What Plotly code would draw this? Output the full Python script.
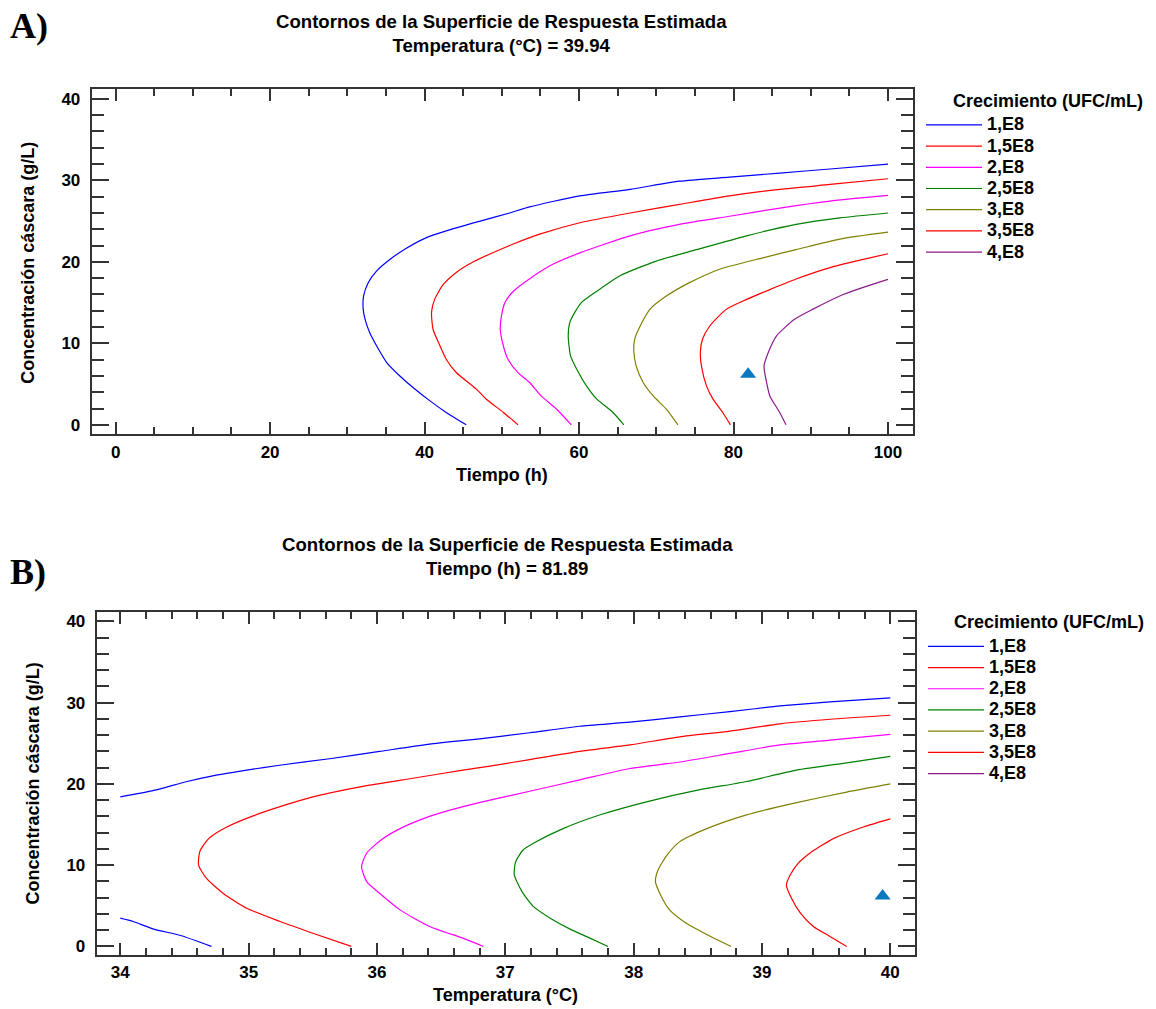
import plotly.graph_objects as go

# ---------------- data ----------------
niveles = ["1,E8", "1,5E8", "2,E8", "2,5E8", "3,E8", "3,5E8", "4,E8"]

# Panel A: Tiempo (h) vs Concentración cáscara (g/L), Temperatura = 39.94 °C
A_t_1E8 = [45.4, 42.8, 40.7, 38.5, 36.8, 35.1, 33.8, 32.9, 32.3, 32.05, 32.1, 32.7, 33.8, 35.5, 37.7, 40.25, 42.8, 47.2, 51.0, 53.6, 60.1, 66.6, 73.0, 79.5, 86.0, 92.5, 100.0]
A_c_1E8 = [0.0, 1.52, 2.94, 4.58, 6.0, 7.65, 9.68, 11.3, 12.95, 14.2, 15.8, 17.45, 18.9, 20.3, 21.7, 22.97, 23.8, 25.0, 26.0, 26.75, 28.1, 28.9, 29.9, 30.4, 30.9, 31.4, 32.0]
A_t_15E8 = [52.1, 50.2, 48.0, 46.7, 44.1, 42.8, 41.8, 41.1, 40.9, 41.3, 42.4, 44.1, 46.5, 49.5, 51.5, 54.9, 60.1, 66.6, 73.0, 79.5, 86.0, 92.5, 100.0]
A_c_15E8 = [0.0, 1.52, 3.15, 4.38, 6.42, 8.05, 10.1, 11.7, 13.8, 15.4, 17.2, 18.7, 20.1, 21.4, 22.2, 23.4, 24.8, 26.0, 27.05, 28.1, 28.9, 29.5, 30.2]
A_t_2E8 = [59.0, 57.1, 55.1, 53.6, 52.1, 50.8, 50.2, 49.8, 49.96, 50.4, 51.5, 53.8, 56.6, 60.1, 66.6, 73.0, 79.5, 86.0, 92.5, 100.0]
A_c_2E8 = [0.0, 1.92, 3.55, 5.2, 6.4, 8.05, 9.68, 11.7, 13.4, 15.0, 16.4, 18.06, 19.7, 21.1, 23.2, 24.6, 25.6, 26.6, 27.45, 28.15]
A_t_25E8 = [65.8, 64.4, 62.3, 60.96, 59.7, 58.9, 58.6, 58.8, 59.45, 60.3, 62.3, 65.3, 70.0, 75.2, 81.7, 88.1, 93.75, 100.0]
A_c_25E8 = [0.0, 1.52, 3.15, 4.78, 6.83, 8.46, 10.9, 12.55, 13.8, 15.0, 16.4, 18.3, 20.1, 21.5, 23.2, 24.6, 25.4, 26.0]
A_t_3E8 = [72.8, 71.3, 69.6, 68.3, 67.4, 67.1, 67.2, 67.9, 69.2, 71.3, 74.3, 78.2, 83.8, 88.1, 93.75, 100.0]
A_c_3E8 = [0.0, 1.92, 3.55, 5.2, 7.2, 8.87, 10.5, 12.1, 14.2, 15.8, 17.45, 19.1, 20.5, 21.5, 22.8, 23.65]
A_t_35E8 = [79.6, 78.6, 77.35, 76.5, 75.85, 75.7, 75.98, 76.9, 79.1, 81.7, 84.7, 88.1, 92.5, 96.8, 100.0]
A_c_35E8 = [0.0, 1.52, 3.15, 4.78, 7.2, 8.87, 10.5, 12.1, 14.2, 15.4, 16.6, 17.9, 19.3, 20.3, 21.0]
A_t_4E8 = [86.8, 85.98, 84.7, 84.2, 83.95, 84.5, 85.55, 87.9, 90.3, 94.2, 97.2, 100.0]
A_c_4E8 = [0.0, 1.52, 3.55, 5.6, 7.2, 8.87, 10.9, 12.95, 14.2, 16.0, 17.0, 17.85]
A_opt_t = [81.89]
A_opt_c = [6.2]

# Panel B: Temperatura (°C) vs Concentración cáscara (g/L), Tiempo = 81.89 h
B_T_1E8 = [34.0, 34.26, 34.52, 34.72, 34.985, 35.24, 35.63, 36.02, 36.41, 36.80, 37.19, 37.58, 37.97, 38.36, 38.75, 39.14, 39.53, 40.0,
           None, 34.0, 34.1, 34.26, 34.47, 34.71]
B_c_1E8 = [18.4, 19.2, 20.3, 21.0, 21.7, 22.3, 23.1, 24.0, 24.9, 25.55, 26.3, 27.1, 27.6, 28.25, 28.9, 29.6, 30.1, 30.6,
           None, 3.48, 3.07, 2.13, 1.35, 0.0]
B_T_15E8 = [35.80, 35.50, 35.245, 34.985, 34.80, 34.67, 34.61, 34.62, 34.69, 34.83, 35.04, 35.245, 35.50, 35.89, 36.28, 36.67, 36.88, 37.19, 37.58, 37.97, 38.36, 38.75, 39.14, 39.53, 40.0]
B_c_15E8 = [0.0, 1.63, 3.07, 4.7, 6.55, 8.4, 10.0, 11.7, 13.3, 14.7, 16.1, 17.2, 18.4, 19.7, 20.7, 21.7, 22.2, 23.0, 24.0, 24.8, 25.8, 26.5, 27.4, 27.96, 28.45]
B_T_2E8 = [36.83, 36.67, 36.41, 36.18, 36.02, 35.92, 35.88, 35.92, 36.04, 36.18, 36.41, 36.67, 36.88, 37.19, 37.58, 37.97, 38.36, 38.75, 39.14, 39.53, 40.0]
B_c_2E8 = [0.0, 1.02, 2.46, 4.5, 6.55, 7.98, 9.83, 11.5, 13.2, 14.5, 16.0, 17.2, 18.0, 19.1, 20.5, 21.9, 22.7, 23.75, 24.8, 25.4, 26.1]
B_T_25E8 = [37.80, 37.66, 37.505, 37.35, 37.22, 37.13, 37.07, 37.08, 37.14, 37.23, 37.45, 37.74, 38.10, 38.49, 38.88, 39.27, 39.66, 40.0]
B_c_25E8 = [0.0, 1.02, 2.13, 3.48, 4.9, 6.75, 8.8, 10.4, 11.9, 12.8, 14.5, 16.2, 17.8, 19.2, 20.3, 21.7, 22.6, 23.4]
B_T_3E8 = [38.76, 38.60, 38.41, 38.28, 38.21, 38.17, 38.19, 38.26, 38.36, 38.57, 38.88, 39.27, 39.66, 40.0]
B_c_3E8 = [0.0, 1.23, 2.86, 4.5, 6.34, 7.98, 9.4, 11.25, 12.9, 14.5, 16.2, 17.7, 19.0, 20.0]
B_T_35E8 = [39.66, 39.53, 39.40, 39.30, 39.23, 39.19, 39.22, 39.28, 39.375, 39.56, 39.79, 40.0]
B_c_35E8 = [0.0, 1.23, 2.46, 4.09, 5.93, 7.57, 8.8, 10.2, 11.5, 13.3, 14.7, 15.7]
B_T_4E8 = [None]   # level 4,E8 does not appear inside panel B (legend entry only)
B_c_4E8 = [None]
B_opt_T = [39.94]
B_opt_c = [6.2]

# tick positions (every minor step) and labels (only at major steps)
A_xticks = list(range(0, 101, 5))
A_xlabels = [str(v) if v % 20 == 0 else "" for v in A_xticks]
B_xticks = [round(34 + 0.2 * k, 1) for k in range(31)]
B_xlabels = [str(int(round(v))) if abs(v - round(v)) < 1e-9 else "" for v in B_xticks]
C_yticks = list(range(0, 41, 2))
C_ylabels = [str(v) if v % 10 == 0 else "" for v in C_yticks]

# ---------------- styles ----------------
colores = ["#0000FF", "#FF0000", "#FF00FF", "#008000", "#808000", "#FF0000", "#8B1A8B"]
W, H = 1156, 1009
FONT = "Liberation Sans, Arial, sans-serif"
AXC = "#333333"

def px(x):
    return x / W

def py(y):
    return 1 - y / H

A_x = [A_t_1E8, A_t_15E8, A_t_2E8, A_t_25E8, A_t_3E8, A_t_35E8, A_t_4E8]
A_y = [A_c_1E8, A_c_15E8, A_c_2E8, A_c_25E8, A_c_3E8, A_c_35E8, A_c_4E8]
B_x = [B_T_1E8, B_T_15E8, B_T_2E8, B_T_25E8, B_T_3E8, B_T_35E8, B_T_4E8]
B_y = [B_c_1E8, B_c_15E8, B_c_2E8, B_c_25E8, B_c_3E8, B_c_35E8, B_c_4E8]

def legname(s):
    return '<span style="font-size:18px">' + s + '</span>'

fig = go.Figure()
for i, nivel in enumerate(niveles):
    fig.add_trace(go.Scatter(x=A_x[i], y=A_y[i], mode="lines", name=legname(nivel),
                             line=dict(color=colores[i], width=1.2, shape="spline", smoothing=0.6),
                             xaxis="x", yaxis="y", legend="legend", connectgaps=False))
for i, nivel in enumerate(niveles):
    fig.add_trace(go.Scatter(x=B_x[i], y=B_y[i], mode="lines", name=legname(nivel),
                             line=dict(color=colores[i], width=1.2, shape="spline", smoothing=0.6),
                             xaxis="x2", yaxis="y2", legend="legend2", connectgaps=False))

# optimum markers, drawn on twin frames (same range and domain) carrying the longer major ticks
fig.add_trace(go.Scatter(x=A_opt_t, y=A_opt_c, mode="markers", showlegend=False,
                         marker=dict(symbol="triangle-up", size=14, color="#0A78BE"),
                         xaxis="x3", yaxis="y3"))
fig.add_trace(go.Scatter(x=B_opt_T, y=B_opt_c, mode="markers", showlegend=False,
                         marker=dict(symbol="triangle-up", size=14, color="#0A78BE"),
                         xaxis="x4", yaxis="y4"))

tickfont = dict(family=FONT, size=17, color="black", weight="bold")
common = dict(ticks="inside", tickwidth=1.5, tickcolor=AXC, showline=True, linecolor=AXC, linewidth=2,
              mirror="ticks", showgrid=False, zeroline=False, tickfont=tickfont, autorange=False)
twin = dict(ticks="inside", tickwidth=2, tickcolor=AXC, showline=True, linecolor=AXC, linewidth=2,
            mirror="ticks", showgrid=False, zeroline=False, tickfont=tickfont, autorange=False,
            showticklabels=False)

A_xr, A_yr = [-3.1, 103.2], [-1.14, 41.2]
B_xr, B_yr = [33.816, 40.19], [-1.03, 41.15]
A_xd, A_yd = [px(91.7), px(912.7)], [py(435), py(89.3)]
B_xd, B_yd = [px(96.7), px(914.7)], [py(956.7), py(613.3)]

legfont = dict(family=FONT, size=14, color="black", weight="bold")

fig.update_layout(
    width=W, height=H, autosize=False,
    margin=dict(l=0, r=0, t=0, b=0),
    paper_bgcolor="white", plot_bgcolor="rgba(0,0,0,0)",
    font=dict(family=FONT, size=18, color="black", weight="bold"),
    # all ticks (minor steps) with labels at the major steps
    xaxis=dict(range=A_xr, domain=A_xd, anchor="y", tickmode="array", tickvals=A_xticks, ticktext=A_xlabels,
               ticklen=7, ticklabelstandoff=1, **common),
    yaxis=dict(range=A_yr, domain=A_yd, anchor="x", tickmode="array", tickvals=C_yticks, ticktext=C_ylabels,
               ticklen=12, ticklabelstandoff=6, **common),
    xaxis2=dict(range=B_xr, domain=B_xd, anchor="y2", tickmode="array", tickvals=B_xticks, ticktext=B_xlabels,
                ticklen=7, ticklabelstandoff=1, **common),
    yaxis2=dict(range=B_yr, domain=B_yd, anchor="x2", tickmode="array", tickvals=C_yticks, ticktext=C_ylabels,
                ticklen=12, ticklabelstandoff=6, **common),
    # twin frames: longer major ticks only
    xaxis3=dict(range=A_xr, domain=A_xd, anchor="y3", tickmode="linear", tick0=0, dtick=20, ticklen=12, **twin),
    yaxis3=dict(range=A_yr, domain=A_yd, anchor="x3", tickmode="linear", tick0=0, dtick=10, ticklen=17, **twin),
    xaxis4=dict(range=B_xr, domain=B_xd, anchor="y4", tickmode="linear", tick0=34, dtick=1, ticklen=12, **twin),
    yaxis4=dict(range=B_yr, domain=B_yd, anchor="x4", tickmode="linear", tick0=0, dtick=10, ticklen=17, **twin),
    legend=dict(x=px(921), y=py(109.5), xanchor="left", yanchor="top", font=legfont,
                bgcolor="rgba(0,0,0,0)", itemwidth=56, tracegroupgap=0),
    legend2=dict(x=px(923), y=py(632), xanchor="left", yanchor="top", font=legfont,
                 bgcolor="rgba(0,0,0,0)", itemwidth=56, tracegroupgap=0),
    showlegend=True,
)

ann = []
def text(x, y, s, size=18, angle=0, family=FONT, xanchor="center"):
    ann.append(dict(x=px(x), y=py(y), xref="paper", yref="paper", text=s, showarrow=False,
                    xanchor=xanchor, yanchor="middle", textangle=angle,
                    font=dict(family=family, size=size, color="black", weight="bold")))

text(501, 34, "Contornos de la Superficie de Respuesta Estimada<br>Temperatura (°C) = 39.94", size=18.6)
text(507.5, 558, "Contornos de la Superficie de Respuesta Estimada<br>Tiempo (h) = 81.89", size=18.6)
text(502, 476, "Tiempo (h)")
text(505.7, 997, "Temperatura (°C)")
text(28.3, 263, "Concentración cáscara (g/L)", angle=-90)
text(33, 785, "Concentración cáscara (g/L)", angle=-90)
text(950.7, 100.7, "Crecimiento (UFC/mL)", xanchor="left")
text(952.3, 623.3, "Crecimiento (UFC/mL)", xanchor="left")
text(8, 26, "A)", size=36, family="Liberation Serif, Times New Roman, serif", xanchor="left")
text(8, 573, "B)", size=36, family="Liberation Serif, Times New Roman, serif", xanchor="left")
fig.update_layout(annotations=ann)

fig.write_html("out.html")
